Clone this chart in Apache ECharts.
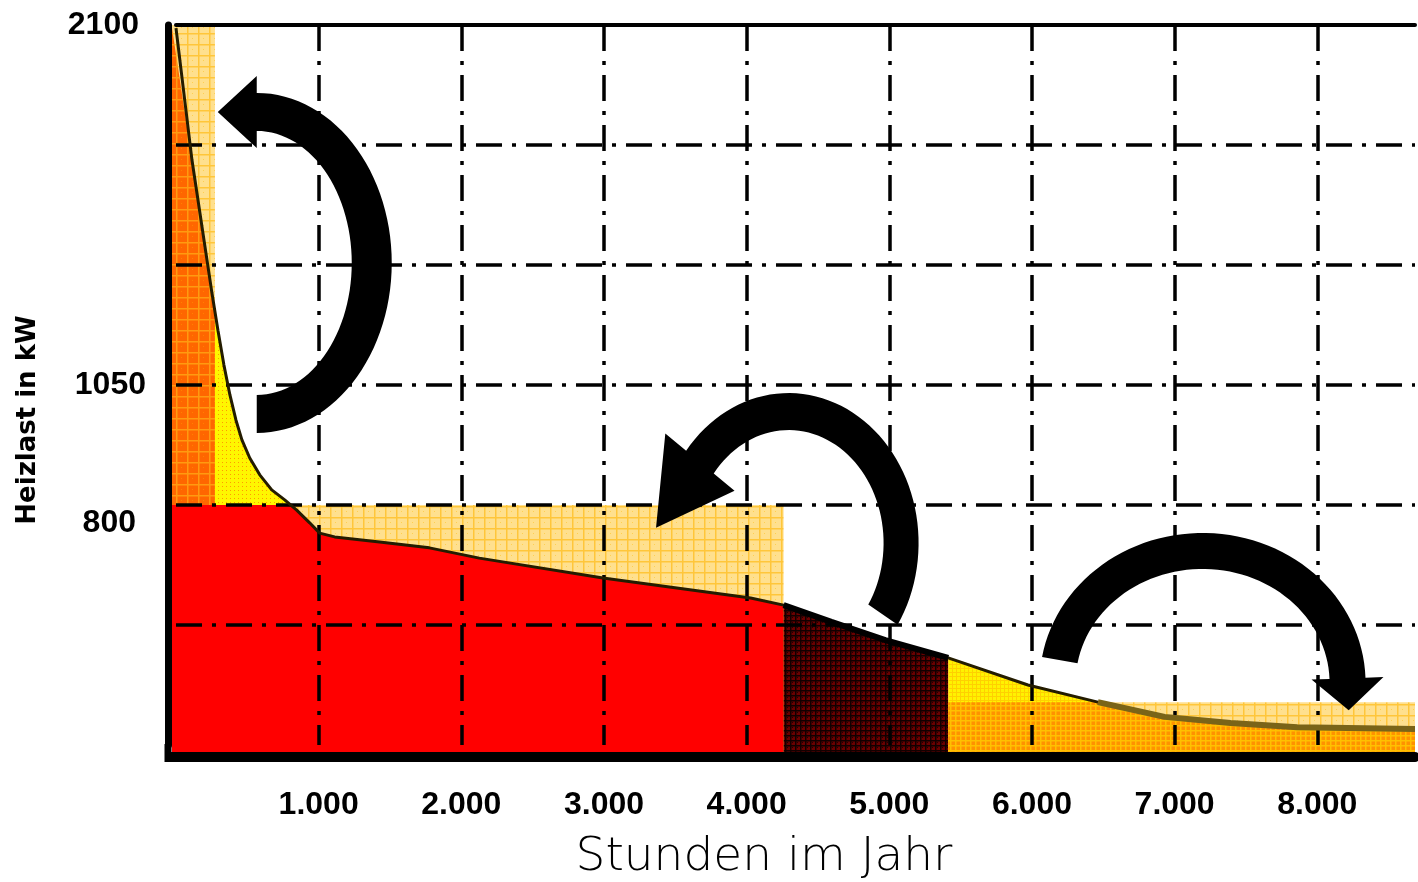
<!DOCTYPE html>
<html><head><meta charset="utf-8">
<script src="https://cdn.jsdelivr.net/npm/echarts@6/dist/echarts.min.js"></script>
<style>html,body{margin:0;padding:0;background:#fff}#c{width:1418px;height:882px}</style>
</head><body><div id="c"></div>
<script>
// ---------------- data ----------------
// load duration curve (hours per year, heat load in axis units)
const curveHours = [0, 112, 252, 294, 336, 378, 420, 462, 517, 587, 671, 762, 846, 937, 1007, 1112, 1427, 1776, 2126, 2993, 4028, 4259, 4594, 4972, 5413, 5972, 6462, 6930, 7392, 7860, 8685];
const curveLoad  = [2091, 1706, 1318, 1210, 1108, 1021, 948, 890, 837, 788, 744, 715, 685, 648, 618, 607, 592, 575, 545, 487, 429, 408, 359, 306, 254, 175, 125, 82, 64, 52, 47];

// operating ranges (hours) and levels
const peakEnd = 273;
const storageEnd = 4259;
const darkEnd = 5413;
const hourMax = 8685;
const peakLevel = 2100;
const baseLevel = 700;
const lowLevel = 125;

// filled regions: [x0, x1, top ('curve' or level), cap]
const regionX0  = [0, peakEnd, darkEnd, 0, peakEnd, 0, storageEnd, darkEnd, darkEnd];
const regionX1  = [peakEnd, storageEnd, hourMax, peakEnd, storageEnd, storageEnd, darkEnd, hourMax, hourMax];
const regionTop = [peakLevel, baseLevel, lowLevel, 'curve', 'curve', 'curve', 'curve', 'curve', 'curve'];
const regionCap = [null, null, null, null, null, baseLevel, null, null, lowLevel];
const regionKind = ['light', 'light', 'light', 'orange', 'yellow', 'red', 'dark', 'yellow2', 'orange2'];

// axis ticks
const xTicks = [1000, 2000, 3000, 4000, 5000, 6000, 7000, 8000];
const xTickLabels = ['1.000', '2.000', '3.000', '4.000', '5.000', '6.000', '7.000', '8.000'];
const yTicks = [2100, 1050, 700];
const yTickLabels = ['2100', '1050', '800'];

// arrows (annotation): centre in data units
const arrowCenterHours = [566, 4294, 7196];
const arrowCenterLoad  = [1406, 589, 181];

// ---------------- styles ----------------
function makePattern(bg, line, cell, lw, dot) {
  const c = document.createElement('canvas');
  c.width = cell; c.height = cell;
  const g = c.getContext('2d');
  g.fillStyle = bg; g.fillRect(0, 0, cell, cell);
  g.fillStyle = line;
  g.fillRect(0, 0, cell, lw); g.fillRect(0, 0, lw, cell);
  if (dot) { g.fillStyle = dot; g.fillRect(Math.floor(cell / 2), Math.floor(cell / 2), 1, 1); }
  return {image: c, repeat: 'repeat'};
}
const fills = {
  light: makePattern('#FFE08E', '#FFC63A', 11, 1.5, '#FFCF50'),
  orange: makePattern('#FF6600', '#FF9A10', 11, 1.5, '#FF8000'),
  yellow: makePattern('#FFF600', '#FFF600', 4, 1, '#FF9A00'),
  red: '#FF0000',
  dark: makePattern('#6a0000', '#120000', 5, 1.5, '#200000'),
  yellow2: makePattern('#FFF200', '#FFD000', 4, 1, null),
  orange2: makePattern('#FF9200', '#FFC000', 5, 1.5, null)
};
const arrowGeom = [
  {rxO: 135, ryO: 170, rxI: 95, ryI: 132, t0: 90, t1: -90, head: 39, extra: 17},
  {rxO: 130, ryO: 150, rxI: 95, ryI: 113, t0: 33, t1: -142, head: 79, extra: 27},
  {rxO: 163, ryO: 150, rxI: 127, ryI: 114, t0: -170, t1: -2, head: 32, extra: 18}
];

function curveAt(h) {
  for (let i = 0; i < curveHours.length - 1; i++) {
    if (h >= curveHours[i] && h <= curveHours[i + 1]) {
      const f = (h - curveHours[i]) / (curveHours[i + 1] - curveHours[i]);
      return curveLoad[i] + f * (curveLoad[i + 1] - curveLoad[i]);
    }
  }
  return curveLoad[curveLoad.length - 1];
}
function regionPoly(i) {
  const x0 = regionX0[i], x1 = regionX1[i];
  if (regionTop[i] !== 'curve') {
    const t = regionTop[i];
    return [[x0, 0], [x1, 0], [x1, t], [x0, t]];
  }
  let pts = [[x0, curveAt(x0)]];
  for (let k = 0; k < curveHours.length; k++) {
    if (curveHours[k] > x0 && curveHours[k] < x1) pts.push([curveHours[k], curveLoad[k]]);
  }
  pts.push([x1, curveAt(x1)]);
  const cap = regionCap[i];
  if (cap != null) {
    const out = [];
    for (let k = 0; k < pts.length; k++) {
      const a = pts[k];
      out.push([a[0], Math.min(a[1], cap)]);
      if (k < pts.length - 1) {
        const b = pts[k + 1];
        if ((a[1] - cap) * (b[1] - cap) < 0) {
          const f = (cap - a[1]) / (b[1] - a[1]);
          out.push([a[0] + f * (b[0] - a[0]), cap]);
        }
      }
    }
    pts = out;
  }
  pts.push([x1, 0]);
  pts.push([x0, 0]);
  return pts;
}

const chart = echarts.init(document.getElementById('c'));
const gridLine = {color: '#000', width: 3.5, type: [26, 10, 4, 10]};
const curveData = curveHours.map((h, i) => [h, curveLoad[i]]);
const tickFont = {fontFamily: 'Liberation Sans', fontWeight: 'bold', fontSize: 32, color: '#000'};
const option = {
  animation: false,
  backgroundColor: '#fff',
  grid: {left: 176, right: 0, top: 25, bottom: 137},
  xAxis: [{
    type: 'value', min: 0, max: hourMax, interval: 1000, z: 5, offset: 12,
    axisLine: {show: true, onZero: false, lineStyle: {color: '#000', width: 10}},
    axisTick: {show: false},
    axisLabel: Object.assign({
      margin: 32,
      formatter: v => { const k = xTicks.indexOf(v); return k >= 0 ? xTickLabels[k] : ''; }
    }, tickFont),
    splitLine: {show: true, showMinLine: false, showMaxLine: false, lineStyle: gridLine}
  }, {
    type: 'value', min: 0, max: hourMax, position: 'top', z: 5,
    axisLine: {show: true, onZero: false, lineStyle: {color: '#000', width: 4}},
    axisTick: {show: false}, axisLabel: {show: false}, splitLine: {show: false}
  }],
  yAxis: {
    type: 'value', min: 0, max: 2100, interval: 350, z: 5, offset: 8,
    axisLine: {show: true, onZero: false, lineStyle: {color: '#000', width: 7}},
    axisTick: {show: false},
    axisLabel: Object.assign({
      margin: 22,
      formatter: v => { const k = yTicks.indexOf(v); return k >= 0 ? '{t' + k + '|' + yTickLabels[k] + '}' : ''; },
      rich: {
        t0: Object.assign({padding: [0, 7, 0, 0]}, tickFont),
        t1: Object.assign({padding: [0, 0, 0, 0]}, tickFont),
        t2: Object.assign({padding: [36, 10, 0, 0]}, tickFont)
      }
    }, tickFont),
    splitLine: {show: true, showMinLine: false, showMaxLine: false, lineStyle: gridLine}
  },
  graphic: [
    {type: 'rect', z: 50, shape: {x: 164.5, y: 744, width: 7, height: 18}, style: {fill: '#000'}},
    {type: 'rect', z: 50, shape: {x: 171, y: 752, width: 6, height: 10}, style: {fill: '#000'}},
    {type: 'text', x: 28, y: 420, rotation: Math.PI / 2, z: 100,
     style: {text: 'Heizlast in kW', fill: '#000', font: 'bold 26px "DejaVu Sans"', textAlign: 'center', textVerticalAlign: 'middle'}},
    {type: 'text', x: 764, y: 858, z: 100,
     style: {text: 'Stunden im Jahr', fill: '#000', font: '200 47px "DejaVu Sans"', textAlign: 'center', textVerticalAlign: 'middle'}}
  ],
  series: [
    {
      type: 'custom', z: 2, silent: true, clip: false,
      data: regionKind.map((k, i) => [i]),
      renderItem: (params, api) => {
        const i = params.dataIndex;
        const pts = regionPoly(i).map(p => {
          const c = api.coord(p);
          if (p[1] === 0) c[1] += 8;
          if (p[0] === 0) c[0] -= 4;
          return c;
        });
        return {type: 'polygon', shape: {points: pts}, style: {fill: fills[regionKind[i]]}};
      }
    },
    {
      type: 'line', z: 6, symbol: 'none', silent: true, data: curveData,
      lineStyle: {color: '#241c00', width: 3}
    },
    {
      type: 'line', z: 6, symbol: 'none', silent: true,
      data: curveData.filter(d => d[0] >= storageEnd && d[0] <= darkEnd),
      lineStyle: {color: '#000', width: 6}
    },
    {
      type: 'line', z: 6, symbol: 'none', silent: true,
      data: curveData.filter(d => d[0] >= 6462),
      lineStyle: {color: '#7a6418', width: 6}
    },
    {
      type: 'custom', z: 8, silent: true, clip: false,
      data: arrowCenterHours.map((h, i) => [h, arrowCenterLoad[i]]),
      renderItem: (params, api) => {
        const g = arrowGeom[params.dataIndex];
        const c = api.coord([api.value(0), api.value(1)]);
        const cx = c[0], cy = c[1];
        const r = Math.PI / 180, N = 60;
        const t0 = g.t0 * r, t1 = g.t1 * r, s = Math.sign(t1 - t0);
        const pts = [];
        for (let k = 0; k <= N; k++) { const t = t0 + (t1 - t0) * k / N; pts.push([cx + g.rxO * Math.cos(t), cy + g.ryO * Math.sin(t)]); }
        const rxM = (g.rxO + g.rxI) / 2, ryM = (g.ryO + g.ryI) / 2;
        let dx = -rxM * Math.sin(t1) * s, dy = ryM * Math.cos(t1) * s;
        const dl = Math.hypot(dx, dy); dx /= dl; dy /= dl;
        const po = [cx + g.rxO * Math.cos(t1), cy + g.ryO * Math.sin(t1)];
        const pi = [cx + g.rxI * Math.cos(t1), cy + g.ryI * Math.sin(t1)];
        const mid = [(po[0] + pi[0]) / 2, (po[1] + pi[1]) / 2];
        let nx = po[0] - pi[0], ny = po[1] - pi[1]; const nl = Math.hypot(nx, ny); nx /= nl; ny /= nl;
        pts.push([po[0] + nx * g.extra, po[1] + ny * g.extra]);
        pts.push([mid[0] + dx * g.head, mid[1] + dy * g.head]);
        pts.push([pi[0] - nx * g.extra, pi[1] - ny * g.extra]);
        for (let k = N; k >= 0; k--) { const t = t0 + (t1 - t0) * k / N; pts.push([cx + g.rxI * Math.cos(t), cy + g.ryI * Math.sin(t)]); }
        return {type: 'polygon', shape: {points: pts}, style: {fill: '#000'}};
      }
    }
  ]
};
chart.setOption(option);
</script></body></html>
